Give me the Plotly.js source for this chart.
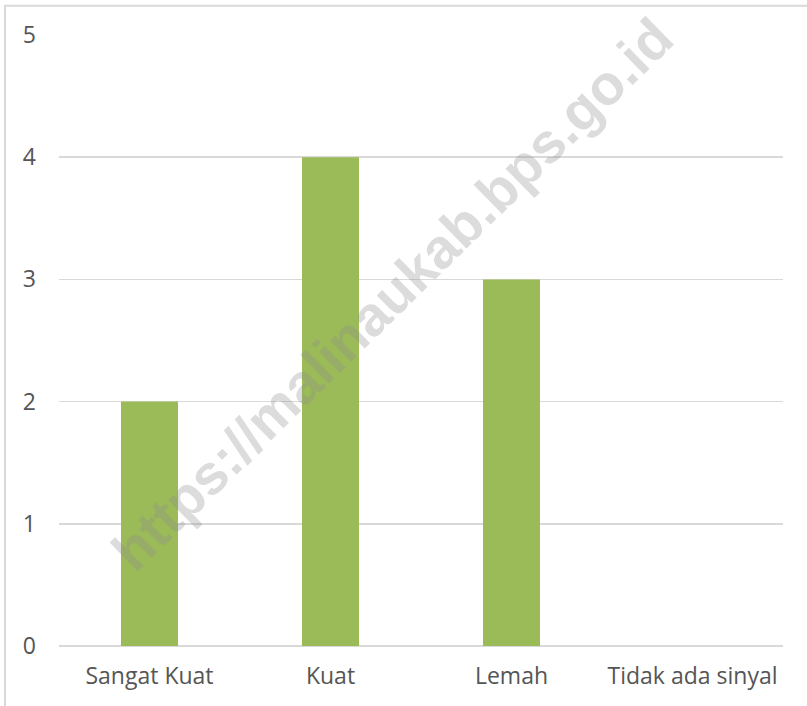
<!DOCTYPE html>
<html>
<head>
<meta charset="utf-8">
<script src="https://cdn.plot.ly/plotly-3.0.1.min.js"></script>
<style>html,body{margin:0;padding:0;background:#fff;}#chart{width:807px;height:706px;}</style>
</head>
<body>
<div id="chart"></div>
<script>
var categories = ["Sangat Kuat", "Kuat", "Lemah", "Tidak ada sinyal"];
var values = [2, 4, 3, 0];
var yTicks = [0, 1, 2, 3, 4, 5];
var watermark = "https://malinaukab.bps.go.id";

var trace = {
  type: "bar",
  x: categories,
  y: values,
  marker: {color: "#9BBB59"},
  hoverinfo: "x+y"
};

var layout = {
  width: 807,
  height: 706,
  margin: {l: 59, r: 24, t: 35, b: 60},
  paper_bgcolor: "#ffffff",
  plot_bgcolor: "#ffffff",
  bargap: 0.685,
  showlegend: false,
  font: {family: "Open Sans, Noto Sans, sans-serif", color: "#595959", size: 23},
  xaxis: {
    type: "category",
    showgrid: false,
    zeroline: false,
    showline: false,
    ticks: "",
    ticklabelstandoff: 14,
    tickfont: {size: 23, color: "#555555"}
  },
  yaxis: {
    range: [0, 5],
    tickvals: yTicks,
    showgrid: true,
    gridcolor: "#d9d9d9",
    gridwidth: 1.5,
    zeroline: true,
    zerolinecolor: "#d9d9d9",
    zerolinewidth: 1.5,
    showline: false,
    ticks: "",
    ticklabelstandoff: 22,
    tickfont: {size: 23, color: "#555555"}
  },
  shapes: [{
    type: "rect", xref: "paper", yref: "paper",
    x0: -0.0746, x1: 1.04, y0: -0.1, y1: 1.048,
    line: {color: "#d9d9d9", width: 2},
    fillcolor: "rgba(0,0,0,0)",
    layer: "below"
  }],
  annotations: [{
    text: watermark,
    xref: "paper", yref: "paper",
    x: 0.46, y: 0.575,
    showarrow: false,
    textangle: -44.5,
    font: {family: "Liberation Sans, Arial, sans-serif", size: 56, color: "rgba(140,140,140,0.3)", weight: "bold"}
  }]
};

Plotly.newPlot("chart", [trace], layout, {displayModeBar: false, staticPlot: true});
</script>
</body>
</html>
